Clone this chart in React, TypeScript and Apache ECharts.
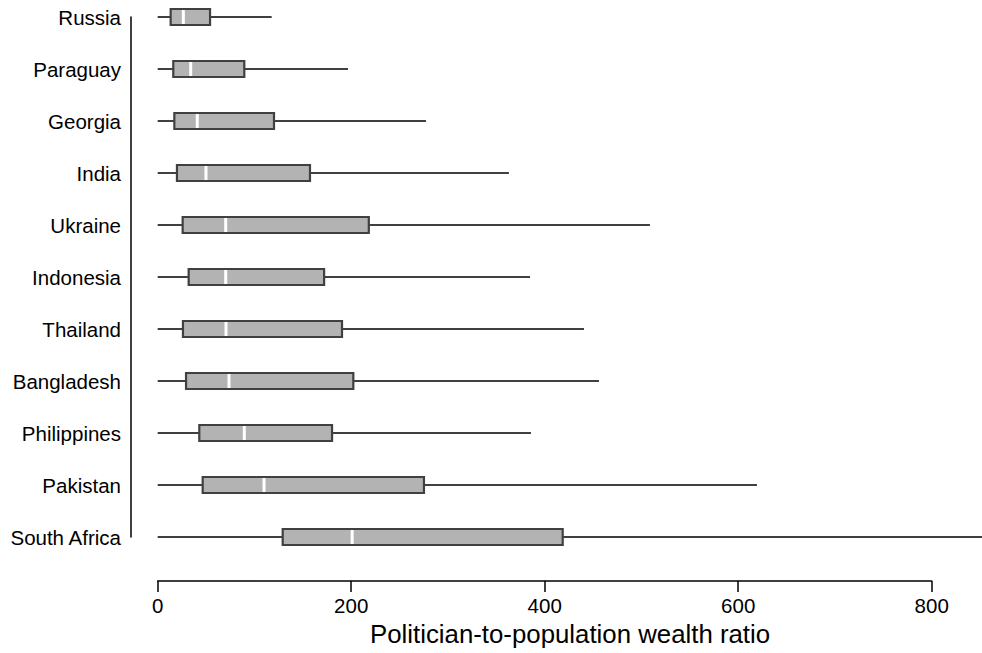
import React, { useEffect, useRef } from "react";
import * as echarts from "echarts";

const categories = [
  "Russia",
  "Paraguay",
  "Georgia",
  "India",
  "Ukraine",
  "Indonesia",
  "Thailand",
  "Bangladesh",
  "Philippines",
  "Pakistan",
  "South Africa",
];
const whiskerLow = [0, 0, 0, 0, 0, 0, 0, 0, 0, 0, 0];
const q1 = [13.4, 16.1, 17.2, 19.9, 25.8, 32.0, 26.1, 29.3, 43.0, 46.5, 129.2];
const medians = [26.5, 34.1, 40.9, 49.9, 70.3, 70.3, 70.6, 73.7, 89.5, 109.9, 201.0];
const q3 = [54.1, 89.5, 120.2, 157.4, 218.2, 172.0, 190.5, 202.2, 180.2, 275.2, 418.6];
const whiskerHigh = [117.8, 196.7, 277.3, 363.0, 508.8, 384.8, 440.6, 456.1, 385.8, 619.4, 900];
const xTicks = [0, 200, 400, 600, 800];
const xTitle = "Politician-to-population wealth ratio";

const FONT = "Liberation Sans, Arial, sans-serif";

export default function App() {
  const ref = useRef<HTMLDivElement>(null);
  useEffect(() => {
    if (!ref.current) return;
    const chart = echarts.init(ref.current, null, { renderer: "svg" });
    const data = categories.map((_, i) => [
      i,
      whiskerLow[i],
      q1[i],
      medians[i],
      q3[i],
      whiskerHigh[i],
    ]);
    chart.setOption({
      animation: false,
      backgroundColor: "#ffffff",
      grid: { left: 157.7, right: 50.3, top: 17, bottom: 116, containLabel: false },
      xAxis: {
        type: "value",
        min: xTicks[0],
        max: xTicks[xTicks.length - 1],
        interval: 200,
        offset: 44,
        splitLine: { show: false },
        axisLine: { show: true, onZero: false, lineStyle: { color: "#000", width: 1.5 } },
        axisTick: { show: true, length: 11, lineStyle: { color: "#000", width: 1.5 } },
        axisLabel: {
          show: true,
          color: "#000",
          fontSize: 20.5,
          fontFamily: FONT,
          margin: 14,
        },
      },
      yAxis: {
        type: "category",
        data: categories,
        inverse: true,
        boundaryGap: false,
        offset: 26.7,
        axisLine: { show: true, onZero: false, lineStyle: { color: "#000", width: 1.5 } },
        axisTick: { show: false },
        splitLine: { show: false },
        axisLabel: {
          color: "#000",
          fontSize: 20.5,
          fontFamily: FONT,
          margin: 10,
        },
      },
      graphic: [
        {
          type: "text",
          left: 370,
          top: 621,
          style: {
            text: xTitle,
            fontSize: 25.8,
            fontFamily: FONT,
            fill: "#000",
          },
        },
      ],
      series: [
        {
          type: "custom",
          clip: false,
          encode: { x: [1, 2, 3, 4, 5], y: 0 },
          data,
          renderItem: (params: any, api: any) => {
            const cat = api.value(0);
            const pMin = api.coord([api.value(1), cat]);
            const pQ1 = api.coord([api.value(2), cat]);
            const pMed = api.coord([api.value(3), cat]);
            const pQ3 = api.coord([api.value(4), cat]);
            const pMax = api.coord([api.value(5), cat]);
            const y = pMin[1];
            const h = 16;
            return {
              type: "group",
              children: [
                {
                  type: "line",
                  shape: { x1: pMin[0], y1: y, x2: pMax[0], y2: y },
                  style: { stroke: "#404040", lineWidth: 2.2 },
                },
                {
                  type: "rect",
                  shape: { x: pQ1[0], y: y - h / 2, width: pQ3[0] - pQ1[0], height: h },
                  style: { fill: "#b3b3b3", stroke: "#404040", lineWidth: 2.2 },
                },
                {
                  type: "line",
                  shape: { x1: pMed[0], y1: y - h / 2 + 1, x2: pMed[0], y2: y + h / 2 - 1 },
                  style: { stroke: "#ffffff", lineWidth: 3 },
                },
              ],
            };
          },
        },
      ],
    });
    return () => chart.dispose();
  }, []);
  return (
    <div
      ref={ref}
      style={{ position: "fixed", left: 0, top: 0, width: 982, height: 653 }}
    />
  );
}
